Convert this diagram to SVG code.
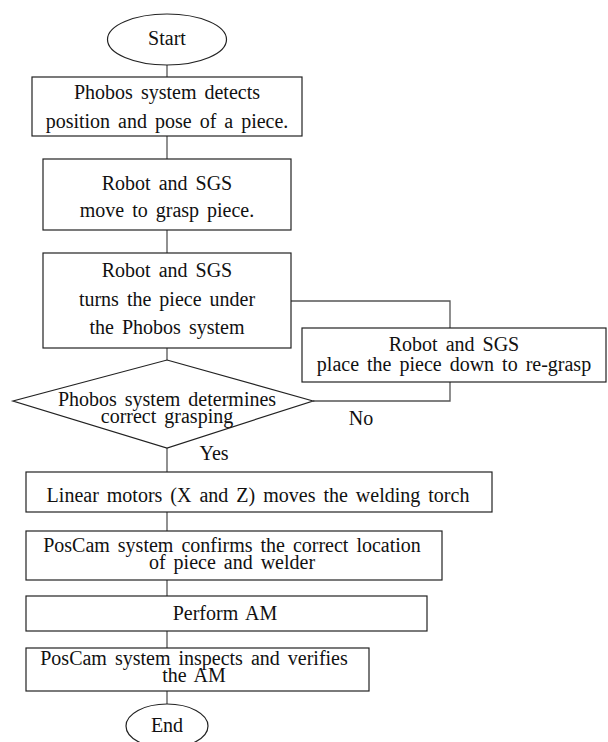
<svg xmlns="http://www.w3.org/2000/svg" width="608" height="742" viewBox="0 0 608 742">
<style>
  .node { fill: #ffffff; stroke: #222222; stroke-width: 1.2; }
  .conn { fill: none; stroke: #555555; stroke-width: 1.3; }
  text { font-family: "Liberation Serif", "Times New Roman", serif; font-size: 20px; fill: #111111; text-anchor: middle; word-spacing: 3px; }
</style>
<rect width="608" height="742" fill="#ffffff"/>
<g id="connectors">
  <line class="conn" x1="167" y1="65" x2="167" y2="77"/>
  <line class="conn" x1="167" y1="136" x2="167" y2="159"/>
  <line class="conn" x1="167" y1="230" x2="167" y2="253"/>
  <line class="conn" x1="167" y1="348" x2="167" y2="360"/>
  <polyline class="conn" points="291,301 450,301 450,328"/>
  <polyline class="conn" points="450,382 450,401 313,401"/>
  <line class="conn" x1="167" y1="448" x2="167" y2="472"/>
  <line class="conn" x1="167" y1="512" x2="167" y2="531"/>
  <line class="conn" x1="167" y1="580" x2="167" y2="596"/>
  <line class="conn" x1="167" y1="631" x2="167" y2="648"/>
  <line class="conn" x1="167" y1="691" x2="167" y2="704"/>
  <text x="361" y="425">No</text>
  <text x="214" y="460">Yes</text>
</g>
<g id="start">
  <ellipse class="node" cx="167" cy="39.5" rx="59.5" ry="25.5"/>
  <text x="167" y="45">Start</text>
</g>
<g id="detect">
  <rect class="node" x="32" y="77" width="270" height="59"/>
  <text x="167" y="99">Phobos system detects</text>
  <text x="167" y="128">position and pose of a piece.</text>
</g>
<g id="grasp">
  <rect class="node" x="43" y="159" width="248" height="71"/>
  <text x="167" y="190">Robot and SGS</text>
  <text x="167" y="217">move to grasp piece.</text>
</g>
<g id="turn">
  <rect class="node" x="43" y="253" width="248" height="95"/>
  <text x="167" y="277">Robot and SGS</text>
  <text x="167" y="306">turns the piece under</text>
  <text x="167" y="334">the Phobos system</text>
</g>
<g id="regrasp">
  <rect class="node" x="302" y="328" width="304" height="54"/>
  <text x="454" y="351">Robot and SGS</text>
  <text x="454" y="371">place the piece down to re-grasp</text>
</g>
<g id="decide">
  <polygon class="node" points="167,360 313,401 167,448 13,401"/>
  <text x="167" y="406">Phobos system determines</text>
  <text x="167" y="423">correct grasping</text>
</g>
<g id="linear">
  <rect class="node" x="26" y="472" width="466" height="40"/>
  <text x="258" y="502">Linear motors (X and Z) moves the welding torch</text>
</g>
<g id="confirm">
  <rect class="node" x="26" y="531" width="416" height="49"/>
  <text x="232" y="552">PosCam system confirms the correct location</text>
  <text x="232" y="569">of piece and welder</text>
</g>
<g id="perform">
  <rect class="node" x="26" y="596" width="401" height="35"/>
  <text x="225" y="620">Perform AM</text>
</g>
<g id="inspect">
  <rect class="node" x="26" y="648" width="343" height="43"/>
  <text x="194" y="665">PosCam system inspects and verifies</text>
  <text x="194" y="682">the AM</text>
</g>
<g id="end">
  <ellipse class="node" cx="167" cy="726" rx="41" ry="22"/>
  <text x="167" y="732">End</text>
</g>
</svg>
